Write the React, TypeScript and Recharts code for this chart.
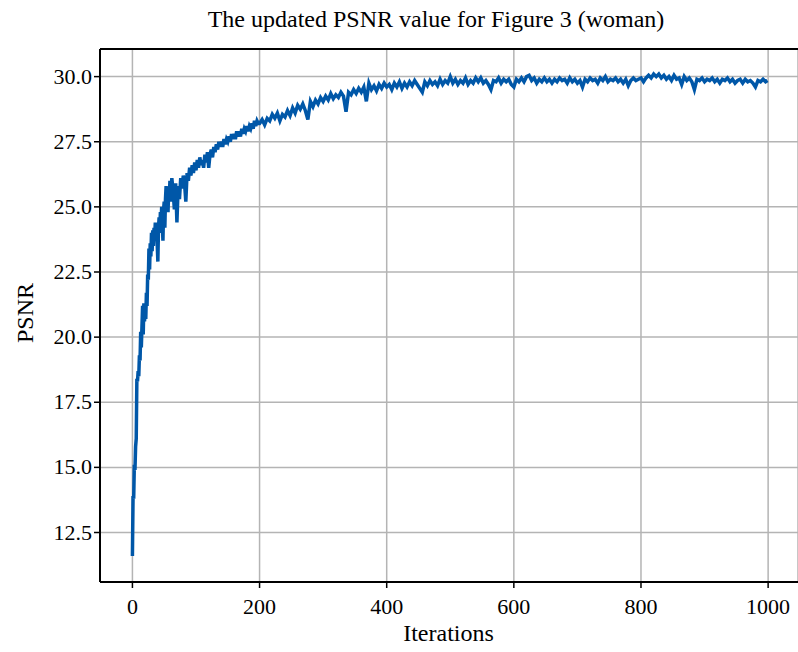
import { LineChart, Line, XAxis, YAxis, CartesianGrid, ReferenceLine } from 'recharts'

// PSNR per iteration
// iterations 0..59, every iteration
const psnrEarly = [
  11.6, 13.9, 13.8, 15.1, 14.9, 15.8, 16.1, 18.4, 18.3, 18.7,
  18.5, 19.3, 19.1, 20.2, 19.6, 20.4, 21.2, 20.1, 21.3, 20.6,
  21.1, 20.7, 21.7, 21.2, 22.4, 22.2, 23.4, 22.6, 23.6, 23.1,
  24.0, 23.3, 24.1, 23.5, 24.2, 23.8, 24.4, 23.9, 24.3, 23.6,
  22.9, 24.2, 24.6, 24.0, 24.8, 24.3, 25.0, 24.4, 23.7, 24.9,
  25.2, 24.2, 25.3, 25.8, 24.9, 25.5, 24.8, 25.6, 25.4, 26.0,
]

// iterations 60..198, every 2nd
const psnrMid = [
  25.2, 26.1, 25.6, 24.9, 25.9, 24.4, 25.8, 25.3, 26.1, 25.7,
  26.2, 25.9, 25.2, 26.3, 26.0, 26.5, 26.2, 26.6, 26.3, 26.7,
  26.4, 26.8, 26.5, 26.9, 26.6, 26.8, 26.5, 27.0, 26.7, 27.1,
  26.5, 27.0, 27.2, 26.9, 27.3, 27.1, 27.4, 27.2, 27.5, 27.3,
  27.5, 27.3, 27.6, 27.4, 27.6, 27.5, 27.7, 27.5, 27.8, 27.6,
  27.8, 27.6, 27.9, 27.7, 27.9, 27.7, 28.0, 27.8, 28.0, 27.9,
  28.1, 27.9, 28.1, 28.0, 28.2, 28.0, 28.3, 28.1, 28.3, 28.2,
]

// iterations 200..996, every 4th
const psnrLate = [
  28.2, 28.35, 28.15, 28.4, 28.3, 28.55, 28.4, 28.6, 28.3, 28.55,
  28.45, 28.7, 28.5, 28.8, 28.6, 28.9, 28.75, 28.95, 28.7, 28.35,
  29.05, 28.85, 29.1, 28.95, 29.2, 29.05, 29.25, 29.1, 29.35, 29.15,
  29.3, 29.2, 29.4, 29.25, 28.65, 29.4, 29.3, 29.5, 29.35, 29.55,
  29.4, 29.6, 29.05, 29.75, 29.5, 29.65, 29.45, 29.7, 29.55, 29.75,
  29.6, 29.7, 29.5, 29.75, 29.6, 29.8, 29.55, 29.75, 29.6, 29.8,
  29.65, 29.85, 29.7, 29.55, 29.4, 29.8, 29.65, 29.85, 29.7, 29.8,
  29.65, 29.9, 29.7, 29.85, 29.75, 30.0, 29.75, 29.9, 29.7, 29.85,
  29.75, 29.95, 29.7, 29.85, 29.75, 29.95, 29.8, 29.95, 29.75, 29.85,
  29.7, 29.5, 29.85, 29.8, 29.95, 29.75, 29.9, 29.8, 29.9, 29.7,
  29.6, 29.9, 29.8, 29.95, 29.8, 30.0, 30.05, 29.85, 29.95, 29.75,
  29.9, 29.8, 29.95, 29.8, 29.9, 29.75, 29.9, 29.8, 29.95, 29.85,
  29.9, 29.75, 29.95, 29.8, 29.9, 29.75, 29.85, 29.6, 29.9, 29.8,
  29.95, 29.85, 29.9, 29.75, 29.95, 29.85, 30.0, 29.8, 29.9, 29.85,
  29.95, 29.8, 29.9, 29.75, 29.9, 29.65, 29.85, 29.95, 29.85, 29.9,
  29.95, 29.8, 29.95, 30.05, 29.95, 30.1, 30.0, 30.1, 29.95, 30.05,
  29.9, 30.0, 29.85, 30.05, 29.9, 29.95, 29.7, 30.0, 29.85, 29.95,
  29.8, 29.5, 29.9, 29.85, 29.95, 29.8, 29.9, 29.85, 29.95, 29.8,
  29.9, 29.75, 29.9, 29.85, 29.95, 29.8, 29.9, 29.75, 29.85, 29.9,
  29.75, 29.9, 29.8, 29.85, 29.75, 29.6, 29.85, 29.8, 29.9, 29.8,
]

const lastIter = 999
const lastPsnr = 29.85

const xTicks = [0, 200, 400, 600, 800, 1000]
const yTicks = [12.5, 15.0, 17.5, 20.0, 22.5, 25.0, 27.5, 30.0]

const xDomain = [-51, 1047]
const yDomain = [10.6, 31.06]

const data = [
  ...psnrEarly.map((v, i) => ({ iter: i, psnr: v })),
  ...psnrMid.map((v, i) => ({ iter: 60 + i * 2, psnr: v })),
  ...psnrLate.map((v, i) => ({ iter: 200 + i * 4, psnr: v })),
  { iter: lastIter, psnr: lastPsnr },
]

const font = '"Liberation Serif", "Times New Roman", serif'

const XTick = ({ x, y, payload }: any) => (
  <text x={x} y={y} dy={17} textAnchor="middle" fill="#000" style={{ fontFamily: font, fontSize: 22 }}>
    {payload.value}
  </text>
)

const YTick = ({ x, y, payload }: any) => (
  <text x={x} y={y} dy={7} textAnchor="end" fill="#000" style={{ fontFamily: font, fontSize: 22 }}>
    {Number(payload.value).toFixed(1)}
  </text>
)

export default function App() {
  return (
    <div style={{ position: 'absolute', left: 0, top: 0, width: 798, height: 652, background: '#fff', fontFamily: font }}>
      <div style={{ position: 'absolute', top: 6, left: 0, width: 872, textAlign: 'center', fontSize: 24, color: '#000' }}>
        The updated PSNR value for Figure 3 (woman)
      </div>
      <div style={{ position: 'absolute', top: 620, left: 0, width: 897, textAlign: 'center', fontSize: 24, color: '#000' }}>
        Iterations
      </div>
      <div
        style={{
          position: 'absolute',
          left: 25,
          top: 313,
          transform: 'translate(-50%, -50%) rotate(-90deg)',
          fontSize: 24,
          color: '#000',
          whiteSpace: 'nowrap',
        }}
      >
        PSNR
      </div>
      <LineChart width={798} height={652} data={data} margin={{ top: 49, right: 0, left: 0, bottom: 0 }}>
        <CartesianGrid stroke="#b4b4b4" strokeWidth={1.5} />
        <XAxis
          dataKey="iter"
          type="number"
          domain={xDomain}
          ticks={xTicks}
          allowDataOverflow
          height={70}
          tick={<XTick />}
          tickSize={6}
          tickMargin={9}
          axisLine={{ stroke: '#000', strokeWidth: 2 }}
          tickLine={{ stroke: '#000', strokeWidth: 1.5 }}
        />
        <YAxis
          type="number"
          domain={yDomain}
          ticks={yTicks}
          allowDataOverflow
          width={100}
          tick={<YTick />}
          tickSize={6}
          tickMargin={2}
          axisLine={{ stroke: '#000', strokeWidth: 2 }}
          tickLine={{ stroke: '#000', strokeWidth: 1.5 }}
        />
        <ReferenceLine y={yDomain[1]} stroke="#000" strokeWidth={2} ifOverflow="extendDomain" />
        <Line
          type="linear"
          dataKey="psnr"
          stroke="#0057a8"
          strokeWidth={3.5}
          dot={false}
          isAnimationActive={false}
        />
      </LineChart>
    </div>
  )
}
